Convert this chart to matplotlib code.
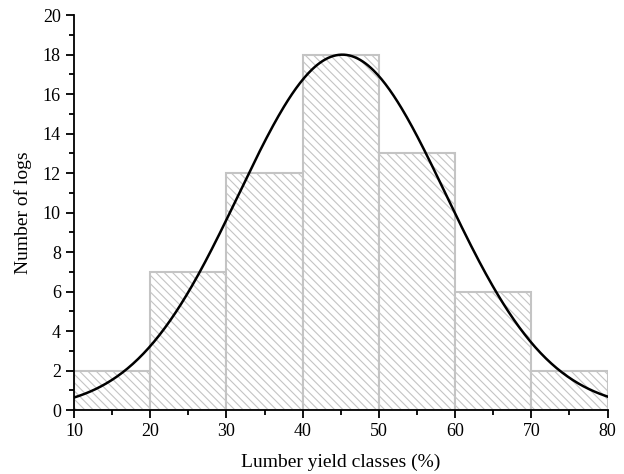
import matplotlib.pyplot as plt
import numpy as np

plt.rcParams['font.family'] = ['Liberation Serif', 'DejaVu Serif']
plt.rcParams['hatch.color'] = '#b0b0b0'
plt.rcParams['hatch.linewidth'] = 0.8

# histogram data
bin_left = [10, 20, 30, 40, 50, 60, 70]
counts = [2, 7, 12, 18, 13, 6, 2]
bin_width = 10

# fitted normal curve parameters
fit_mean = 45.2
fit_sd = 13.6
fit_peak = 18.0

fig = plt.figure(figsize=(6.24, 4.74), dpi=100)
ax = fig.add_axes([0.1186, 0.135, 0.855, 0.833])

ax.bar(bin_left, counts, width=bin_width, align='edge', color='white',
       edgecolor='#c4c4c4', linewidth=1.5, hatch='\\\\\\\\', zorder=2)

x = np.linspace(10, 80, 400)
y = fit_peak * np.exp(-(x - fit_mean) ** 2 / (2 * fit_sd ** 2))
ax.plot(x, y, color='black', linewidth=1.8, zorder=3)

ax.set_xlim(10, 80)
ax.set_ylim(0, 20)
ax.set_xticks(np.arange(10, 81, 10))
ax.set_xticks(np.arange(15, 80, 10), minor=True)
ax.set_yticks(np.arange(0, 21, 2))
ax.set_yticks(np.arange(1, 20, 2), minor=True)
ax.spines['top'].set_visible(False)
ax.spines['right'].set_visible(False)
for s in ['left', 'bottom']:
    ax.spines[s].set_linewidth(1.3)
ax.tick_params(which='major', direction='out', length=6, width=1.3, labelsize=13)
ax.tick_params(which='minor', direction='out', length=3.5, width=1.3)
ax.set_xlabel('Lumber yield classes (%)', fontsize=14, labelpad=10)
ax.set_ylabel('Number of logs', fontsize=14, labelpad=8)

fig.savefig('out.png', dpi=100)
